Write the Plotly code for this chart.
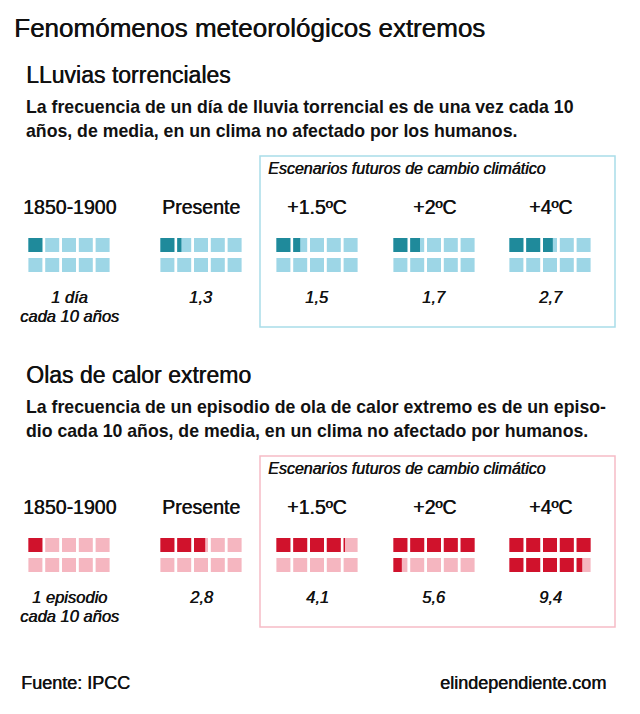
import plotly.graph_objects as go

# ---- data ----
categories = ["1850-1900", "Presente", "+1.5ºC", "+2ºC", "+4ºC"]
rain_values = [1.0, 1.3, 1.5, 1.7, 2.7]
heat_values = [1.0, 2.8, 4.1, 5.6, 9.4]
rain_labels = ["1 día<br>cada 10 años", "1,3", "1,5", "1,7", "2,7"]
heat_labels = ["1 episodio<br>cada 10 años", "2,8", "4,1", "5,6", "9,4"]

# ---- styling / layout constants ----
W, H = 640, 714
SANS = "Liberation Sans, Arial, sans-serif"
centers = [69, 201, 317, 434, 550]
SQ = 14
PITCH = 16.8
ROWP = 20
HEAVY = "0.5px 0px 0px #111"

blue = dict(dark="#1f8a9b", light="#9dd6e6", box="#a9dde9")
red = dict(dark="#d0122c", light="#f5b6c0", box="#f6bcc6")

fig = go.Figure()
shapes = []
annotations = []


def txt(x, y, s, size, xanchor="left", color="#111", bold=False, italic=False, heavy=False):
    if bold:
        s = "<b>" + s + "</b>"
    if italic:
        s = "<i>" + s + "</i>"
    font = dict(size=size, family=SANS, color=color)
    if heavy:
        font["shadow"] = HEAVY
    annotations.append(dict(x=x, y=y, xref="x", yref="y", text=s, showarrow=False,
                            xanchor=xanchor, yanchor="middle", borderpad=0,
                            align="center" if xanchor == "center" else "left",
                            font=font))


def section(top, heading, para_lines, values, labels, pal):
    txt(25, top, heading, 23, heavy=True)
    txt(25, top + 32, para_lines[0], 17.7, bold=True)
    txt(25, top + 56, para_lines[1], 17.7, bold=True)
    box_top = top + 81
    shapes.append(dict(type="rect", xref="x", yref="y", x0=260, x1=615, y0=box_top, y1=box_top + 171,
                       line=dict(color=pal["box"], width=1.5), fillcolor="rgba(0,0,0,0)"))
    txt(267, box_top + 12, "Escenarios futuros de cambio climático", 16, italic=True, heavy=True)
    head_y = box_top + 51
    row1 = box_top + 82
    lab_y = box_top + 141
    for c, cat, v, lab in zip(centers, categories, values, labels):
        txt(c, head_y, cat, 19.5, xanchor="center", heavy=True)
        x_start = c - (4 * PITCH + SQ) / 2
        for i in range(10):
            r, k = divmod(i, 5)
            x0 = x_start + k * PITCH
            y0 = row1 + r * ROWP
            shapes.append(dict(type="rect", xref="x", yref="y", x0=x0, x1=x0 + SQ, y0=y0, y1=y0 + SQ,
                               line=dict(width=0), fillcolor=pal["light"]))
            frac = max(0.0, min(1.0, v - i))
            if frac > 0:
                shapes.append(dict(type="rect", xref="x", yref="y", x0=x0, x1=x0 + SQ * frac, y0=y0, y1=y0 + SQ,
                                   line=dict(width=0), fillcolor=pal["dark"]))
        parts = lab.split("<br>")
        for j, p in enumerate(parts):
            txt(c, lab_y + 19 * j, p, 16.5, xanchor="center", italic=True, heavy=True)


txt(13, 28, "Fenomómenos meteorológicos extremos", 26, heavy=True)
section(75, "LLuvias torrenciales",
        ["La frecuencia de un día de lluvia torrencial es de una vez cada 10",
         "años, de media, en un clima no afectado por los humanos."],
        rain_values, rain_labels, blue)
section(375, "Olas de calor extremo",
        ["La frecuencia de un episodio de ola de calor extremo es de un episo-",
         "dio cada 10 años, de media, en un clima no afectado por humanos."],
        heat_values, heat_labels, red)
txt(20, 683, "Fuente: IPCC", 18, heavy=True)
txt(607, 683, "elindependiente.com", 18, xanchor="right", heavy=True)

fig.add_trace(go.Scatter(x=[0, W], y=[0, H], mode="markers", marker=dict(opacity=0), hoverinfo="skip",
                         showlegend=False))
fig.update_layout(width=W, height=H, margin=dict(l=0, r=0, t=0, b=0),
                  paper_bgcolor="white", plot_bgcolor="white",
                  xaxis=dict(range=[0, W], visible=False, fixedrange=True),
                  yaxis=dict(range=[H, 0], visible=False, fixedrange=True),
                  shapes=shapes, annotations=annotations, showlegend=False)
fig.write_html("out.html", config={"displayModeBar": False},
               post_script="document.body.style.margin='0';")
